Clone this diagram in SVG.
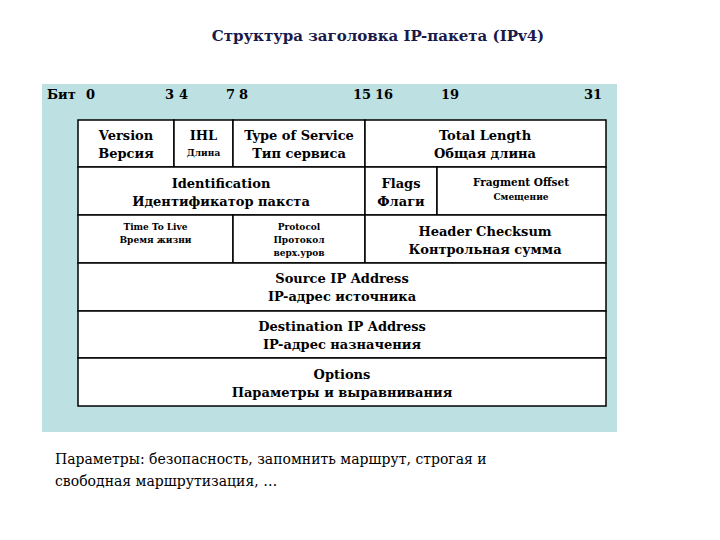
<svg xmlns="http://www.w3.org/2000/svg" width="720" height="540" viewBox="0 0 720 540" font-family="DejaVu Serif, serif">
<style>
text{font-family:'DejaVu Serif','Liberation Serif',serif;fill:#000}
.b{font-weight:bold;text-anchor:middle}
.l{font-size:13px}.m{font-size:10.5px}.s{font-size:9px}
.c{fill:#fff;stroke:#000;stroke-width:1.5}
.h{font-weight:bold;font-size:13px}
</style>
<rect width="720" height="540" fill="#fff"/>
<text x="378" y="41" class="b" style="font-size:15px;fill:#1a1a4a">Структура заголовка IP-пакета (IPv4)</text>
<rect x="42" y="84" width="575" height="348" fill="#bde0e3"/>
<g id="bits">
<text x="47" y="99" class="h">Бит</text>
<text x="86" y="99" class="h">0</text>
<text x="165" y="99" class="h">3</text><text x="179" y="99" class="h">4</text>
<text x="226" y="99" class="h">7</text><text x="239" y="99" class="h">8</text>
<text x="353" y="99" class="h">15</text><text x="375" y="99" class="h">16</text>
<text x="441" y="99" class="h">19</text>
<text x="584" y="99" class="h">31</text>
</g>
<g id="version"><rect class="c" x="78" y="120" width="96" height="47"/><text x="126" y="140" class="b l">Version</text><text x="126" y="158" class="b l">Версия</text></g>
<g id="ihl"><rect class="c" x="174" y="120" width="59" height="47"/><text x="203.5" y="140" class="b l">IHL</text><text x="203.5" y="156" class="b s">Длина</text></g>
<g id="tos"><rect class="c" x="233" y="120" width="132" height="47"/><text x="299" y="140" class="b l">Type of Service</text><text x="299" y="158" class="b l">Тип сервиса</text></g>
<g id="totlen"><rect class="c" x="365" y="120" width="241" height="47"/><text x="485" y="140" class="b l">Total Length</text><text x="485" y="158" class="b l">Общая длина</text></g>
<g id="ident"><rect class="c" x="78" y="167" width="287" height="48"/><text x="221" y="188" class="b l">Identification</text><text x="221" y="206" class="b l">Идентификатор пакста</text></g>
<g id="flags"><rect class="c" x="365" y="167" width="72" height="48"/><text x="401" y="188" class="b l">Flags</text><text x="401" y="206" class="b l">Флаги</text></g>
<g id="frag"><rect class="c" x="437" y="167" width="169" height="48"/><text x="521" y="186" class="b m">Fragment Offset</text><text x="521" y="200" class="b s">Смещение</text></g>
<g id="ttl"><rect class="c" x="78" y="215" width="155" height="48"/><text x="155.5" y="230" class="b s">Time To Live</text><text x="155.5" y="243" class="b s">Время жизни</text></g>
<g id="proto"><rect class="c" x="233" y="215" width="132" height="48"/><text x="299" y="230" class="b s">Protocol</text><text x="299" y="243" class="b s">Протокол</text><text x="299" y="256" class="b s">верх.уров</text></g>
<g id="cksum"><rect class="c" x="365" y="215" width="241" height="48"/><text x="485" y="236" class="b l">Header Checksum</text><text x="485" y="254" class="b l">Контрольная сумма</text></g>
<g id="src"><rect class="c" x="78" y="263" width="528" height="48"/><text x="342" y="283" class="b l">Source IP Address</text><text x="342" y="301" class="b l">IP-адрес источника</text></g>
<g id="dst"><rect class="c" x="78" y="311" width="528" height="47"/><text x="342" y="331" class="b l">Destination IP Address</text><text x="342" y="349" class="b l">IP-адрес назначения</text></g>
<g id="opts"><rect class="c" x="78" y="358" width="528" height="48"/><text x="342" y="379" class="b l">Options</text><text x="342" y="397" class="b l">Параметры и выравнивания</text></g>
<g id="connectors"/>
<text x="55" y="464" style="font-size:14px">Параметры: безопасность, запомнить маршрут, строгая и</text>
<text x="55" y="486" style="font-size:14px">свободная маршрутизация, …</text>
</svg>
